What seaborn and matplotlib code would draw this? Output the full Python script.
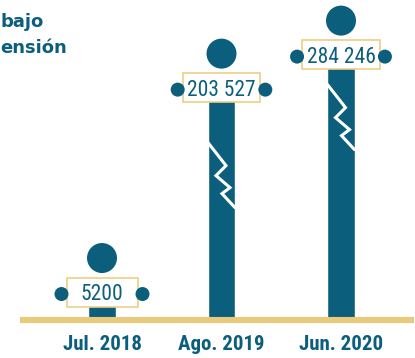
import numpy as np
import pandas as pd
import matplotlib
matplotlib.use("Agg")
import matplotlib.pyplot as plt
import seaborn as sns
from matplotlib import transforms, font_manager
from matplotlib.patches import Rectangle, Circle
from matplotlib.lines import Line2D

# ---------------- data ----------------
periods = ["Jul. 2018", "Ago. 2019", "Jun. 2020"]
persons = [5200, 203527, 284246]
value_labels = ["5200", "203 527", "284 246"]
title_fragments = ["bajo", "ensión"]

# ---------------- style ----------------
TEAL = "#0c5f7c"
GOLD = "#e9ca7b"
BOX_EDGE = "#ebcf85"
W, H = 415, 358
BASE_PX = 38          # baseline height from the bottom of the figure

installed = {f.name for f in font_manager.fontManager.ttflist}
NARROW = next((f for f in ["Liberation Sans Narrow", "Roboto Condensed",
                           "Open Sans Condensed", "Roboto", "Liberation Sans"]
               if f in installed), "DejaVu Sans")

# broken (compressed) value axis: steep below the break, flat above it
BREAK = 30000.0
R_LOW = 0.00538       # px per person below the break
R_HIGH = 0.000409     # px per person above the break


def fwd(v):
    v = np.asarray(v, dtype=float)
    return np.where(v <= BREAK, v * R_LOW, BREAK * R_LOW + (v - BREAK) * R_HIGH)


def inv(p):
    p = np.asarray(p, dtype=float)
    lim = BREAK * R_LOW
    return np.where(p <= lim, p / R_LOW, BREAK + (p - lim) / R_HIGH)


sns.set_theme(style="white")
plt.rcParams["font.family"] = [NARROW, "DejaVu Sans"]

fig = plt.figure(figsize=(W / 100, H / 100), dpi=100)
ax = fig.add_axes([0, BASE_PX / H, 1, (H - BASE_PX) / H])
ax.set_yscale("function", functions=(fwd, inv))

df = pd.DataFrame({"period": periods, "persons": persons})
sns.barplot(data=df, x="period", y="persons", color=TEAL, saturation=1,
            width=0.226, ax=ax, zorder=2, errorbar=None)

STEP = 119.5
ax.set_xlim(-102 / STEP, (W - 102) / STEP)
ax.set_ylim(0, float(inv(H - BASE_PX)))
for s in ax.spines.values():
    s.set_visible(False)
ax.set_yticks([])
ax.set_xticks(range(len(periods)))
ax.set_xticklabels(periods, fontsize=15, fontweight="bold", color=TEAL)
ax.tick_params(axis="x", length=0, pad=10.5)
ax.set_xlabel("")
ax.set_ylabel("")
ax.set_facecolor("white")

# baseline
ax.axhline(0, xmin=20 / W, xmax=414 / W, color=GOLD, lw=4.4, zorder=3,
           clip_on=False, solid_capstyle="butt")

fig.canvas.draw()
renderer = fig.canvas.get_renderer()
ident = transforms.IdentityTransform()

zig_shape = [(0, 0), (18, 23), (8, 33), (22, 45), (14, 51), (27, 65)]
zig_drop = {1: 55, 2: 30}

for i, (v, lab) in enumerate(zip(persons, value_labels)):
    cx, cy = ax.transData.transform((i, v))
    bar = ax.patches[i]
    bx0 = ax.transData.transform((bar.get_x(), 0))[0]

    # break marks
    if v > BREAK and i in zig_drop:
        xs = [bx0 + dx for dx, dy in zig_shape]
        ys = [cy - zig_drop[i] - dy for dx, dy in zig_shape]
        ln = Line2D(xs, ys, color="white", lw=2.2, transform=ident,
                    zorder=4, solid_joinstyle="miter")
        ln.set_clip_path(bar)
        ax.add_line(ln)

    # value sign
    t = fig.text(cx / W, cy / H, lab, ha="center", va="center_baseline",
                 fontsize=15.5, color=TEAL, zorder=7)
    tw = t.get_window_extent(renderer).width
    bw = max(tw + 9, 71)
    bh = 29
    box = Rectangle((cx - bw / 2, cy - bh / 2), bw, bh, transform=ident,
                    facecolor="white", edgecolor=BOX_EDGE, lw=1.2, zorder=6)
    fig.add_artist(box)

    # hands
    for side in (-1, 1):
        hand = Circle((cx + side * (bw / 2 + 5), cy - 2), 7, transform=ident,
                      facecolor=TEAL, edgecolor="none", zorder=8)
        fig.add_artist(hand)
    # head
    head = Circle((cx, cy + 34), 15, transform=ident, facecolor=TEAL,
                  edgecolor="none", zorder=8)
    fig.add_artist(head)

# partially visible heading
fig.text(0, 1 - 27 / H, title_fragments[0], ha="left", va="baseline",
         fontsize=13, fontweight="bold", color=TEAL, family=["DejaVu Sans"])
fig.text(0, 1 - 53 / H, title_fragments[1], ha="left", va="baseline",
         fontsize=13, fontweight="bold", color=TEAL, family=["DejaVu Sans"])

fig.savefig("out.png", dpi=100, facecolor="white")
